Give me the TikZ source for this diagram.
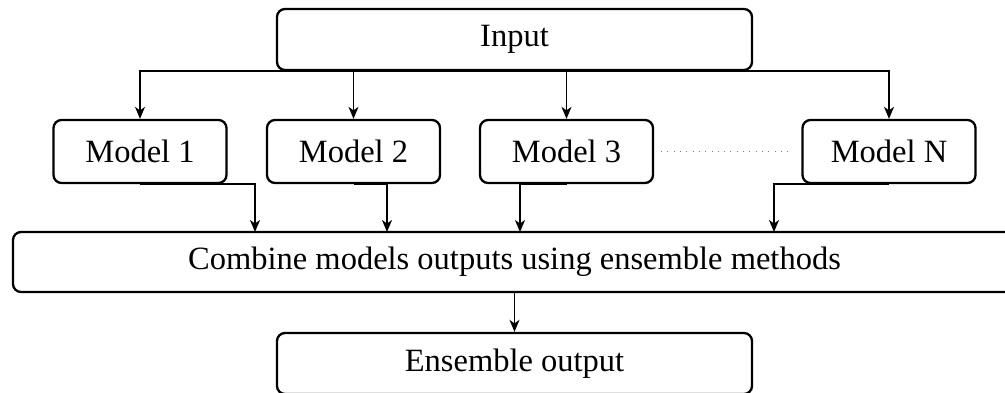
\documentclass[tikz,border=0pt]{standalone}
\usepackage{fontspec}
\setmainfont{Liberation Serif}
\usetikzlibrary{arrows.meta}
\begin{document}
\begin{tikzpicture}[x=1pt,y=-1pt,
  box/.style={draw=black, line width=2.3pt, rounded corners=8pt, fill=white,
    inner sep=0pt, align=center, font=\fontsize{32.5}{38}\selectfont},
  modelbox/.style={box, minimum width=173pt, minimum height=63pt},
  wide/.style={box, minimum height=61pt},
  link/.style={draw=black, line width=1.5pt, -{Stealth[length=12pt,width=10pt,inset=3.5pt]}}]
\useasboundingbox (0,0) rectangle (1005,392);
% top and bottom boxes
\node[wide, minimum width=475pt] (in) at (514.5,39.5) {Input};
% the models
\node[modelbox] (m1) at (140,151.5) {Model 1};
\node[modelbox] (m2) at (353.5,151.5) {Model 2};
\node[modelbox] (m3) at (566.5,151.5) {Model 3};
\node[modelbox] (mN) at (889,151.5) {Model N};
% combination step and result
\node[box, minimum width=1003pt, minimum height=60pt] (comb) at (514.5,262) {Combine models outputs using ensemble methods};
\node[wide, minimum width=475pt] (ens) at (514.5,363.5) {Ensemble output};
% arrival points on the combination box
\coordinate (c1) at (255,232);
\coordinate (c2) at (387,232);
\coordinate (c3) at (520,232);
\coordinate (c4) at (774,232);
% input fans out to every model
\draw[link] (in.south) -| (m1.north);
\draw[link] (in.south) -| (m2.north);
\draw[link] (in.south) -| (m3.north);
\draw[link] (in.south) -| (mN.north);
% model outputs feed the combination
\draw[link] (m1.south) -| (c1);
\draw[link] (m2.south) -| (c2);
\draw[link] (m3.south) -| (c3);
\draw[link] (mN.south) -| (c4);
\draw[link] (comb.south) -- (ens.north);
% further models omitted
\draw[gray, line width=0.8pt, dash pattern=on 0.8pt off 5.5pt] ([xshift=7pt]m3.east) -- ([xshift=-11pt]mN.west);
\end{tikzpicture}
\end{document}
